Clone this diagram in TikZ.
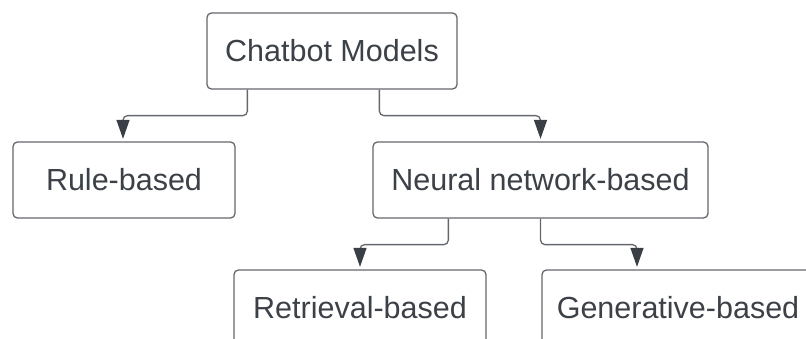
\documentclass[tikz,border=0pt]{standalone}
\usepackage{fontspec}
\setmainfont{Liberation Sans}
\usetikzlibrary{arrows.meta}
\definecolor{boxline}{RGB}{100,104,110}
\definecolor{tipc}{RGB}{58,63,70}
\definecolor{txtc}{RGB}{60,65,72}
\tikzset{
  box/.style={draw=boxline, line width=1.3pt, rounded corners=4.5pt, fill=white,
    minimum height=76pt, inner sep=0pt, text=txtc,
    font=\fontsize{30.5}{36}\selectfont},
  conn/.style={draw=boxline, line width=1.3pt, rounded corners=4.5pt,
    -{Triangle[length=19pt,width=13pt,color=tipc]}, shorten >=2.5pt}
}
\begin{document}
\begin{tikzpicture}[x=1pt,y=-1pt]
\clip (0,0) rectangle (806,339);
\useasboundingbox (0,0) rectangle (806,339);
\fill[white] (0,0) rectangle (806,339);
\node[box, minimum width=250pt] (cm) at (332,51) {Chatbot Models};
\node[box, minimum width=222pt] (rb) at (124,180) {Rule-based};
\node[box, minimum width=335pt] (nn) at (540.5,180) {Neural network-based};
\node[box, minimum width=252pt] (rt) at (360,308) {Retrieval-based};
\node[box, minimum width=272pt] (gb) at (678,308) {Generative-based};
\draw[conn] ([xshift=41pt]cm.south west) -- ++(0,26) -| ([xshift=-1pt]rb.north);
\draw[conn] ([xshift=173pt]cm.south west) -- ++(0,26) -| (nn.north);
\draw[conn] ([xshift=76pt]nn.south west) -- ++(0,26) -| (rt.north);
\draw[conn] (nn.south) -- ++(0,26) -| ([xshift=-41pt]gb.north);
\end{tikzpicture}
\end{document}
